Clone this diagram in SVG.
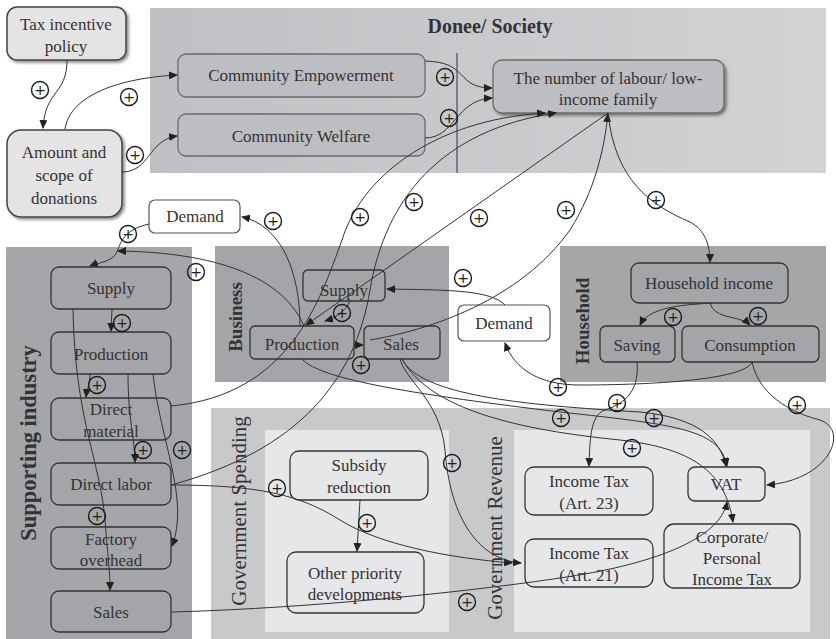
<svg xmlns="http://www.w3.org/2000/svg" width="836" height="639" viewBox="0 0 836 639">
<style>
.t{font-family:"Liberation Serif","DejaVu Serif",serif;font-size:17px;fill:#333;text-anchor:middle}
.lab{font-family:"Liberation Serif","DejaVu Serif",serif;font-weight:bold;fill:#333;text-anchor:middle}
.lab2{font-family:"Liberation Serif","DejaVu Serif",serif;font-size:21px;fill:#333;text-anchor:middle}
.dk{fill:#a4a5a8;stroke:#333;stroke-width:1.3}
.dn{fill:#bdbec1;stroke:#6a6a6a;stroke-width:1.3}
.gv{fill:#e6e7e9;stroke:#333;stroke-width:1.3}
.wh{fill:#fff;stroke:#555;stroke-width:1.2}
.lt{fill:#e4e4e4;stroke:#444;stroke-width:1.5}
.c{fill:none;stroke:#333;stroke-width:1}
.p circle{fill:none;stroke:#1a1a1a;stroke-width:1.4}
.p text{font-family:"DejaVu Sans",sans-serif;font-size:14px;fill:#222;text-anchor:middle}
</style>
<defs>
<marker id="a" markerWidth="9" markerHeight="8" refX="8" refY="4" orient="auto" markerUnits="userSpaceOnUse">
<path d="M0,0 L9,4 L0,8 Z" fill="#222"/>
</marker>
<linearGradient id="g1" x1="0" y1="0" x2="1" y2="0">
<stop offset="0" stop-color="#bfc0c3"/>
<stop offset="1" stop-color="#d2d3d5"/>
</linearGradient>
<filter id="sh" x="-10%" y="-10%" width="130%" height="130%">
<feDropShadow dx="2" dy="2" stdDeviation="1.5" flood-color="#000" flood-opacity="0.45"/>
</filter>
</defs>

<!-- panels -->
<g id="panels">
<rect x="150" y="8" width="676" height="165" fill="url(#g1)"/>
<text class="lab" x="490" y="33" font-size="20">Donee/ Society</text>
<line x1="457" y1="53" x2="457" y2="173" stroke="#333" stroke-width="1"/>
<rect x="6" y="247" width="186" height="392" fill="#a5a6a9"/>
<text class="lab" font-size="22.5" transform="translate(36,443) rotate(-90)">Supporting industry</text>
<rect x="215" y="246" width="234" height="136" fill="#a4a5a8"/>
<text class="lab" font-size="19" transform="translate(242,317) rotate(-90)">Business</text>
<rect x="560" y="246" width="266" height="136" fill="#a5a6a8"/>
<text class="lab" font-size="19" transform="translate(589,321) rotate(-90)">Household</text>
<rect x="211" y="408" width="619" height="231" fill="#c8c9cb"/>
<rect x="265" y="430" width="184" height="202" fill="#e6e7e9"/>
<rect x="514" y="430" width="296" height="202" fill="#e6e7e9"/>
<text class="lab2" transform="translate(246,511) rotate(-90)">Government Spending</text>
<text class="lab2" transform="translate(502,528) rotate(-90)">Government Revenue</text>
</g>

<!-- nodes -->
<g id="n-tax"><rect class="lt" x="7" y="7" width="119" height="53" rx="10" filter="url(#sh)"/><text class="t" x="66" y="30">Tax incentive</text><text class="t" x="66" y="52">policy</text></g>
<g id="n-amount"><rect class="lt" x="7" y="130" width="115" height="87" rx="14" filter="url(#sh)"/><text class="t" x="64" y="158">Amount and</text><text class="t" x="64" y="181">scope of</text><text class="t" x="64" y="204">donations</text></g>
<g id="n-ce"><rect class="dn" x="178" y="54" width="247" height="43" rx="8"/><text class="t" x="301" y="81">Community Empowerment</text></g>
<g id="n-cw"><rect class="dn" x="178" y="114" width="247" height="42" rx="8"/><text class="t" x="301" y="142">Community Welfare</text></g>
<g id="n-nl"><rect class="dn" x="493" y="60" width="231" height="53" rx="9" filter="url(#sh)"/><text class="t" x="608" y="84">The number of labour/ low-</text><text class="t" x="608" y="105">income family</text></g>
<g id="n-demand1"><rect class="wh" x="149" y="200" width="91" height="33" rx="6"/><text class="t" x="195" y="222">Demand</text></g>
<g id="n-si-supply"><rect class="dk" x="51" y="267" width="120" height="42" rx="8"/><text class="t" x="111" y="294">Supply</text></g>
<g id="n-si-prod"><rect class="dk" x="51" y="332" width="120" height="42" rx="8"/><text class="t" x="111" y="360">Production</text></g>
<g id="n-si-dm"><rect class="dk" x="51" y="398" width="120" height="42" rx="8"/><text class="t" x="111" y="415">Direct</text><text class="t" x="111" y="437">material</text></g>
<g id="n-si-dl"><rect class="dk" x="51" y="463" width="120" height="42" rx="8"/><text class="t" x="111" y="490">Direct labor</text></g>
<g id="n-si-fo"><rect class="dk" x="51" y="527" width="120" height="42" rx="8"/><text class="t" x="111" y="545">Factory</text><text class="t" x="111" y="566">overhead</text></g>
<g id="n-si-sales"><rect class="dk" x="51" y="591" width="120" height="41" rx="8"/><text class="t" x="111" y="618">Sales</text></g>
<g id="n-b-supply"><rect class="dk" x="303" y="270" width="82" height="31" rx="5"/><text class="t" x="344" y="296">Supply</text></g>
<g id="n-b-prod"><rect class="dk" x="250" y="326" width="104" height="33" rx="5"/><text class="t" x="302" y="350">Production</text></g>
<g id="n-b-sales"><rect class="dk" x="364" y="326" width="76" height="33" rx="5"/><text class="t" x="401" y="350">Sales</text></g>
<g id="n-demand2"><rect class="wh" x="458" y="305" width="92" height="36" rx="6"/><text class="t" x="504" y="329">Demand</text></g>
<g id="n-hi"><rect class="dk" x="631" y="263" width="157" height="40" rx="8"/><text class="t" x="709" y="289">Household income</text></g>
<g id="n-saving"><rect class="dk" x="600" y="326" width="75" height="36" rx="6"/><text class="t" x="637" y="351">Saving</text></g>
<g id="n-cons"><rect class="dk" x="682" y="326" width="137" height="36" rx="6"/><text class="t" x="750" y="351">Consumption</text></g>
<g id="n-subsidy"><rect class="gv" x="290" y="451" width="138" height="49" rx="9"/><text class="t" x="359" y="471">Subsidy</text><text class="t" x="359" y="493">reduction</text></g>
<g id="n-other"><rect class="gv" x="287" y="552" width="137" height="61" rx="9"/><text class="t" x="355" y="579">Other priority</text><text class="t" x="355" y="600">developments</text></g>
<g id="n-it23"><rect class="gv" x="525" y="467" width="128" height="48" rx="9"/><text class="t" x="589" y="487">Income Tax</text><text class="t" x="589" y="509">(Art. 23)</text></g>
<g id="n-vat"><rect class="gv" x="688" y="467" width="77" height="34" rx="7"/><text class="t" x="726" y="490">VAT</text></g>
<g id="n-it21"><rect class="gv" x="525" y="539" width="128" height="48" rx="9"/><text class="t" x="589" y="559">Income Tax</text><text class="t" x="589" y="581">(Art. 21)</text></g>
<g id="n-corp"><rect class="gv" x="664" y="524" width="136" height="64" rx="10"/><text class="t" x="732" y="543">Corporate/</text><text class="t" x="732" y="564">Personal</text><text class="t" x="732" y="585">Income Tax</text></g>

<!-- connectors -->
<g id="connectors">
<path class="c" d="M67,60 C67,95 45,90 43,128" marker-end="url(#a)"/>
<path class="c" d="M65,129 C70,95 120,78 177,75" marker-end="url(#a)"/>
<path class="c" d="M122,172 C150,172 148,140 177,136" marker-end="url(#a)"/>
<path class="c" d="M425,61 C470,62 455,88 492,88" marker-end="url(#a)"/>
<path class="c" d="M425,138 C455,138 455,100 492,98" marker-end="url(#a)"/>
<path class="c" d="M171,406 C290,395 320,300 342,240 C360,180 430,120 545,113" marker-end="url(#a)"/>
<path class="c" d="M171,485 C300,450 355,380 370,290 C385,200 440,130 556,113" marker-end="url(#a)"/>
<path class="c" d="M370,340 C430,330 520,300 570,230 C595,190 604,150 608,114" marker-end="url(#a)"/>
<path class="c" d="M608,113 L306,325" marker-end="url(#a)"/>
<path class="c" d="M608,113 C615,180 650,205 690,222 C705,230 710,245 710,262" marker-end="url(#a)"/>
<path class="c" d="M300,326 C300,270 280,225 242,217" marker-end="url(#a)"/>
<path class="c" d="M149,224 C122,230 120,245 117,252 C112,262 100,262 90,266" marker-end="url(#a)"/>
<path class="c" d="M304,326 C280,270 200,252 118,251" marker-end="url(#a)"/>
<path class="c" d="M112,309 L111,331" marker-end="url(#a)"/>
<path class="c" d="M90,374 C90,385 87,388 86,397" marker-end="url(#a)"/>
<path class="c" d="M73,309 C75,420 100,460 105,520 C108,560 110,570 110,590" marker-end="url(#a)"/>
<path class="c" d="M128,374 C128,420 135,440 135,462" marker-end="url(#a)"/>
<path class="c" d="M153,374 C160,440 190,500 172,546" marker-end="url(#a)"/>
<path class="c" d="M171,612 C320,608 480,590 560,578 C650,565 720,540 727,502" marker-end="url(#a)"/>
<path class="c" d="M171,485 C260,485 300,495 340,520 C380,545 450,558 512,563" marker-end="url(#a)"/>
<path class="c" d="M360,500 L357,551" marker-end="url(#a)"/>
<path class="c" d="M302,359 C320,380 420,395 560,412 C680,425 720,430 727,466" marker-end="url(#a)"/>
<path class="c" d="M402,359 C420,395 520,405 640,412 C700,418 720,440 726,466" marker-end="url(#a)"/>
<path class="c" d="M402,359 C430,410 520,430 620,440 C690,448 725,470 733,522" marker-end="url(#a)"/>
<path class="c" d="M400,359 C405,380 440,400 445,450 C450,520 480,560 521,563" marker-end="url(#a)"/>
<path class="c" d="M637,362 C640,395 620,405 605,410 C590,415 590,440 589,466" marker-end="url(#a)"/>
<path class="c" d="M752,362 C745,380 650,385 580,385 C540,385 515,370 505,343" marker-end="url(#a)"/>
<path class="c" d="M752,362 C760,400 800,415 820,420 C850,430 830,480 767,485" marker-end="url(#a)"/>
<path class="c" d="M710,303 C690,305 650,305 640,325" marker-end="url(#a)"/>
<path class="c" d="M710,303 C715,320 740,315 750,325" marker-end="url(#a)"/>
<path class="c" d="M505,305 C490,290 450,290 387,289" marker-end="url(#a)"/>
<path class="c" d="M350,301 C345,312 335,318 325,321" marker-end="url(#a)"/>
<path class="c" d="M354,345 L363,345" marker-end="url(#a)"/>
</g>

<!-- polarity signs -->
<g id="signs" class="p">
<g><circle cx="40" cy="90" r="8.5"/><text x="40" y="95">+</text></g>
<g><circle cx="129" cy="97" r="8.5"/><text x="129" y="102">+</text></g>
<g><circle cx="135" cy="155" r="8.5"/><text x="135" y="160">+</text></g>
<g><circle cx="445" cy="77" r="8.5"/><text x="445" y="82">+</text></g>
<g><circle cx="449" cy="118" r="8.5"/><text x="449" y="123">+</text></g>
<g><circle cx="360" cy="217" r="8.5"/><text x="360" y="222">+</text></g>
<g><circle cx="414" cy="202" r="8.5"/><text x="414" y="207">+</text></g>
<g><circle cx="479" cy="218" r="8.5"/><text x="479" y="223">+</text></g>
<g><circle cx="566" cy="210" r="8.5"/><text x="566" y="215">+</text></g>
<g><circle cx="656" cy="200" r="8.5"/><text x="656" y="205">+</text></g>
<g><circle cx="273" cy="221" r="8.5"/><text x="273" y="226">+</text></g>
<g><circle cx="128" cy="234" r="8.5"/><text x="128" y="239">+</text></g>
<g><circle cx="196" cy="272" r="8.5"/><text x="196" y="277">+</text></g>
<g><circle cx="463" cy="278" r="8.5"/><text x="463" y="283">+</text></g>
<g><circle cx="342" cy="313" r="8.5"/><text x="342" y="318">+</text></g>
<g><circle cx="361" cy="365" r="8.5"/><text x="361" y="370">+</text></g>
<g><circle cx="122" cy="323" r="8.5"/><text x="122" y="328">+</text></g>
<g><circle cx="97" cy="385" r="8.5"/><text x="97" y="390">+</text></g>
<g><circle cx="143" cy="450" r="8.5"/><text x="143" y="455">+</text></g>
<g><circle cx="182" cy="450" r="8.5"/><text x="182" y="455">+</text></g>
<g><circle cx="97" cy="516" r="8.5"/><text x="97" y="521">+</text></g>
<g><circle cx="277" cy="488" r="8.5"/><text x="277" y="493">+</text></g>
<g><circle cx="367" cy="523" r="8.5"/><text x="367" y="528">+</text></g>
<g><circle cx="452" cy="463" r="8.5"/><text x="452" y="468">+</text></g>
<g><circle cx="467" cy="602" r="8.5"/><text x="467" y="607">+</text></g>
<g><circle cx="561" cy="418" r="8.5"/><text x="561" y="423">+</text></g>
<g><circle cx="654" cy="418" r="8.5"/><text x="654" y="423">+</text></g>
<g><circle cx="632" cy="448" r="8.5"/><text x="632" y="453">+</text></g>
<g><circle cx="617" cy="403" r="8.5"/><text x="617" y="408">+</text></g>
<g><circle cx="558" cy="387" r="8.5"/><text x="558" y="392">+</text></g>
<g><circle cx="797" cy="405" r="8.5"/><text x="797" y="410">+</text></g>
<g><circle cx="673" cy="317" r="8.5"/><text x="673" y="322">+</text></g>
<g><circle cx="758" cy="316" r="8.5"/><text x="758" y="321">+</text></g>
</g>
</svg>
